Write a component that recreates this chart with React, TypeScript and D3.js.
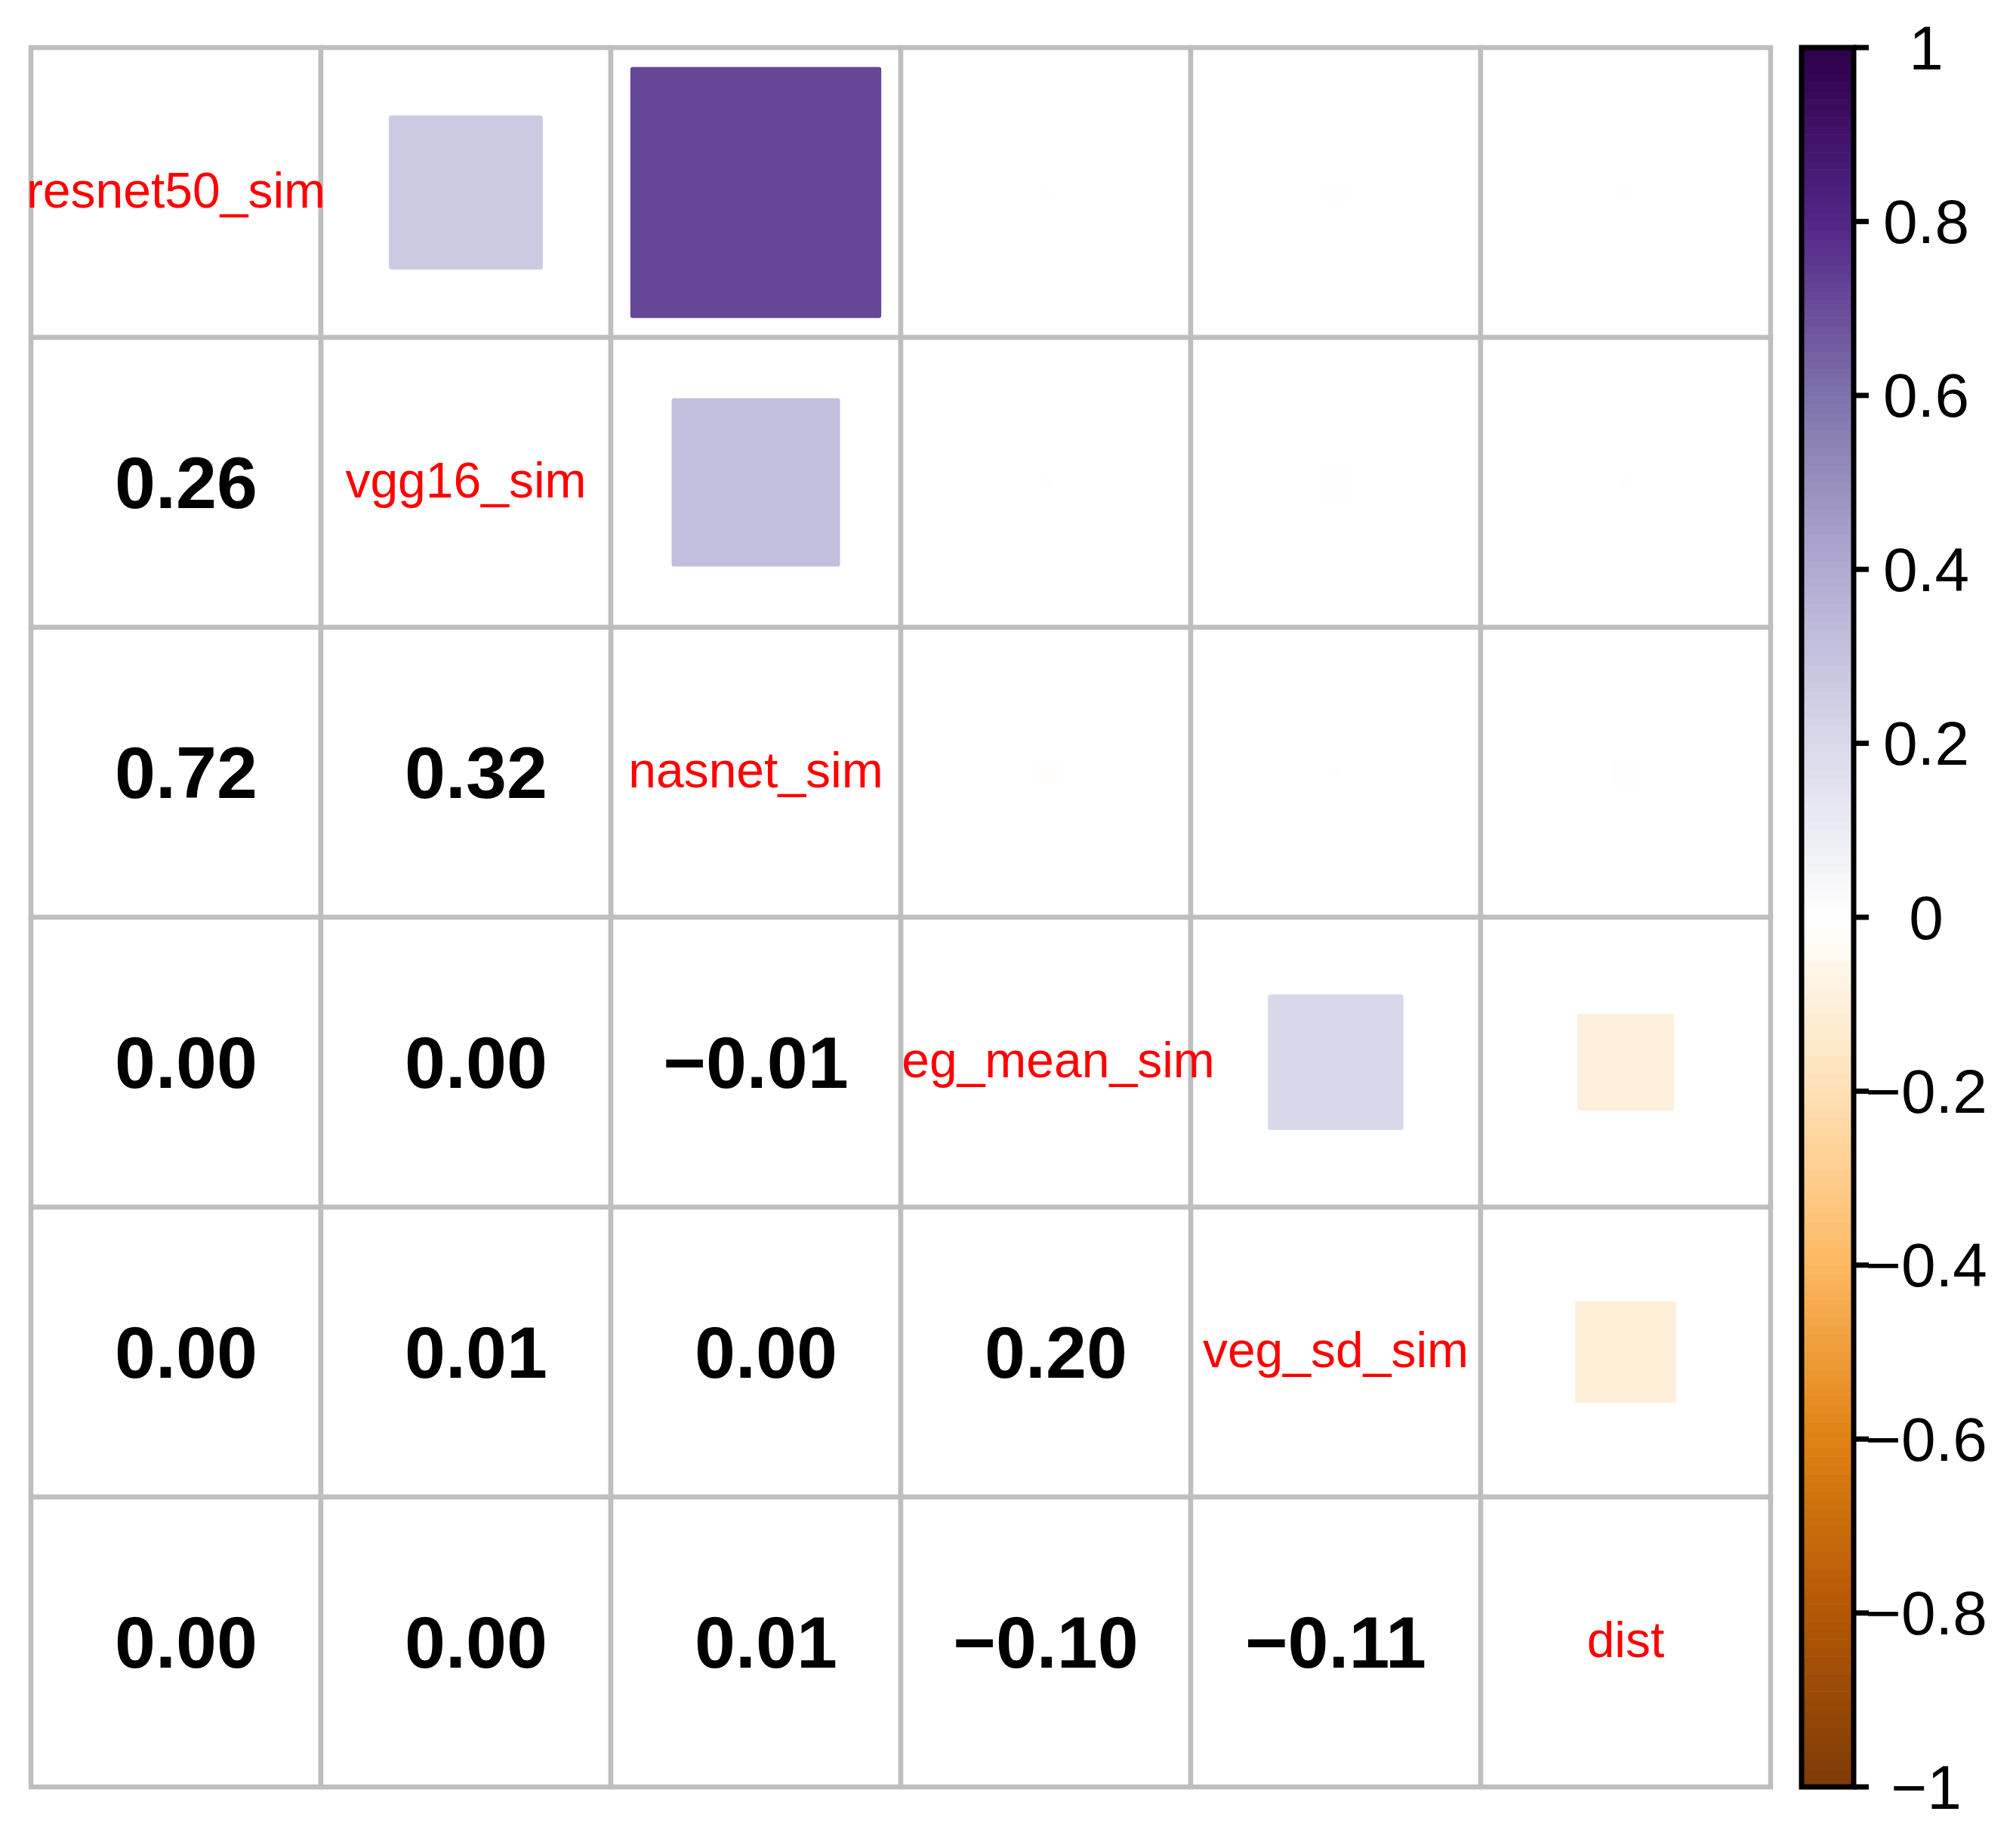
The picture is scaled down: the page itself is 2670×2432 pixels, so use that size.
import React from "react";
import * as d3 from "d3";

const variables = ["resnet50_sim", "vgg16_sim", "nasnet_sim", "veg_mean_sim", "veg_sd_sim", "dist"];

// correlation matrix (symmetric)
const corrMatrix: number[][] = [
  [1, 0.264, 0.72, 0.001, 0.003, 0.001],
  [0.264, 1, 0.318, 0.001, 0.01, 0.001],
  [0.72, 0.318, 1, -0.006, 0.001, 0.007],
  [0.001, 0.001, -0.006, 1, 0.203, -0.1],
  [0.003, 0.01, 0.001, 0.203, 1, -0.11],
  [0.001, 0.001, 0.007, -0.1, -0.11, 1],
];

const paletteStops = [
  "#7F3B08", "#B35806", "#E08214", "#FDB863", "#FEE0B6", "#FFFFFF",
  "#D8DAEB", "#B2ABD2", "#8073AC", "#542788", "#2D004B",
];

const colorbarTicks = [1, 0.8, 0.6, 0.4, 0.2, 0, -0.2, -0.4, -0.6, -0.8, -1];

const W = 2670;
const H = 2432;
const GRID_L = 41;
const GRID_T = 63;
const GRID_SIZE = 2304;
const LW = 6.5;
const NCOL = 200;
const FONT = "'Liberation Sans', Arial, Helvetica, sans-serif";
const DIAG_FS = 66;

const interp = d3.piecewise(d3.interpolateRgb, paletteStops);
const palette = d3.range(NCOL).map((i) => d3.color(interp(i / (NCOL - 1)))!.formatHex());
const colorOf = (r: number) => palette[Math.round(((r + 1) / 2) * (NCOL - 1))];

export default function App() {
  const x = d3.scaleBand().domain(variables).range([GRID_L, GRID_L + GRID_SIZE]);
  const y = d3.scaleBand().domain(variables).range([GRID_T, GRID_T + GRID_SIZE]);
  const bw = x.bandwidth();
  const fmt = d3.format(".2f");
  const tickFmt = d3.format("~g");

  const cbX0 = 2386;
  const cbX1 = 2455;
  const cbY = d3.scaleLinear().domain([-1, 1]).range([GRID_T + GRID_SIZE, GRID_T]);
  const bandH = GRID_SIZE / NCOL;

  const upperCells: JSX.Element[] = [];
  const upper: JSX.Element[] = [];
  const lowerCells: JSX.Element[] = [];
  const lowerText: JSX.Element[] = [];
  const diag: JSX.Element[] = [];

  variables.forEach((rv, i) => {
    variables.forEach((cv, j) => {
      const v = corrMatrix[i][j];
      const cx = x(cv)! + bw / 2;
      const cy = y(rv)! + bw / 2;
      if (j >= i) {
        upperCells.push(
          <rect key={`uc${i}${j}`} x={x(cv)!} y={y(rv)!} width={bw} height={bw}
            fill="#FFFFFF" stroke="#BEBEBE" strokeWidth={LW} />
        );
      }
      if (j > i) {
        const s = Math.sqrt(Math.abs(v)) * bw;
        const c = colorOf(v);
        upper.push(
          <rect key={`u${i}${j}`} x={cx - s / 2} y={cy - s / 2} width={s} height={s}
            fill={c} stroke={c} strokeWidth={LW} strokeLinejoin="round" />
        );
      } else if (j < i) {
        lowerCells.push(
          <rect key={`b${i}${j}`} x={x(cv)!} y={y(rv)!} width={bw} height={bw}
            fill="#FFFFFF" stroke="#BEBEBE" strokeWidth={LW} />
        );
        const label = (v < 0 ? "" : " ") + fmt(v);
        lowerText.push(
          <text key={`t${i}${j}`} x={cx} y={cy} textAnchor="middle" dominantBaseline="central"
            fontFamily={FONT} fontWeight="bold" fontSize={97} fill="#000000"
            style={{ whiteSpace: "pre" }}>{label}</text>
        );
      } else {
        diag.push(
          <text key={`d${i}`} x={cx} y={cy + 0.358 * DIAG_FS - 4} textAnchor="middle"
            fontFamily={FONT} fontSize={DIAG_FS} fill="#FF0000">{rv}</text>
        );
      }
    });
  });

  return (
    <svg width={W} height={H} viewBox={`0 0 ${W} ${H}`} style={{ position: "absolute", left: 0, top: 0, background: "#FFFFFF" }}>
      <rect x={0} y={0} width={W} height={H} fill="#FFFFFF" />
      {upperCells}
      {upper}
      {diag}
      {lowerCells}
      {lowerText}
      <g>
        {palette.map((c, k) => (
          <rect key={`cb${k}`} x={cbX0} width={cbX1 - cbX0}
            y={GRID_T + GRID_SIZE - (k + 1) * bandH} height={bandH + 0.6} fill={c} />
        ))}
        <rect x={cbX0} y={GRID_T} width={cbX1 - cbX0} height={GRID_SIZE} fill="none" stroke="#000000" strokeWidth={7} />
        {colorbarTicks.map((t) => (
          <g key={`tk${t}`}>
            <line x1={cbX1} x2={2475} y1={cbY(t)} y2={cbY(t)} stroke="#000000" strokeWidth={7} />
            <text x={2551} y={cbY(t)} textAnchor="middle" dominantBaseline="central"
              fontFamily={FONT} fontSize={82} fill="#000000">{tickFmt(t)}</text>
          </g>
        ))}
      </g>
    </svg>
  );
}
